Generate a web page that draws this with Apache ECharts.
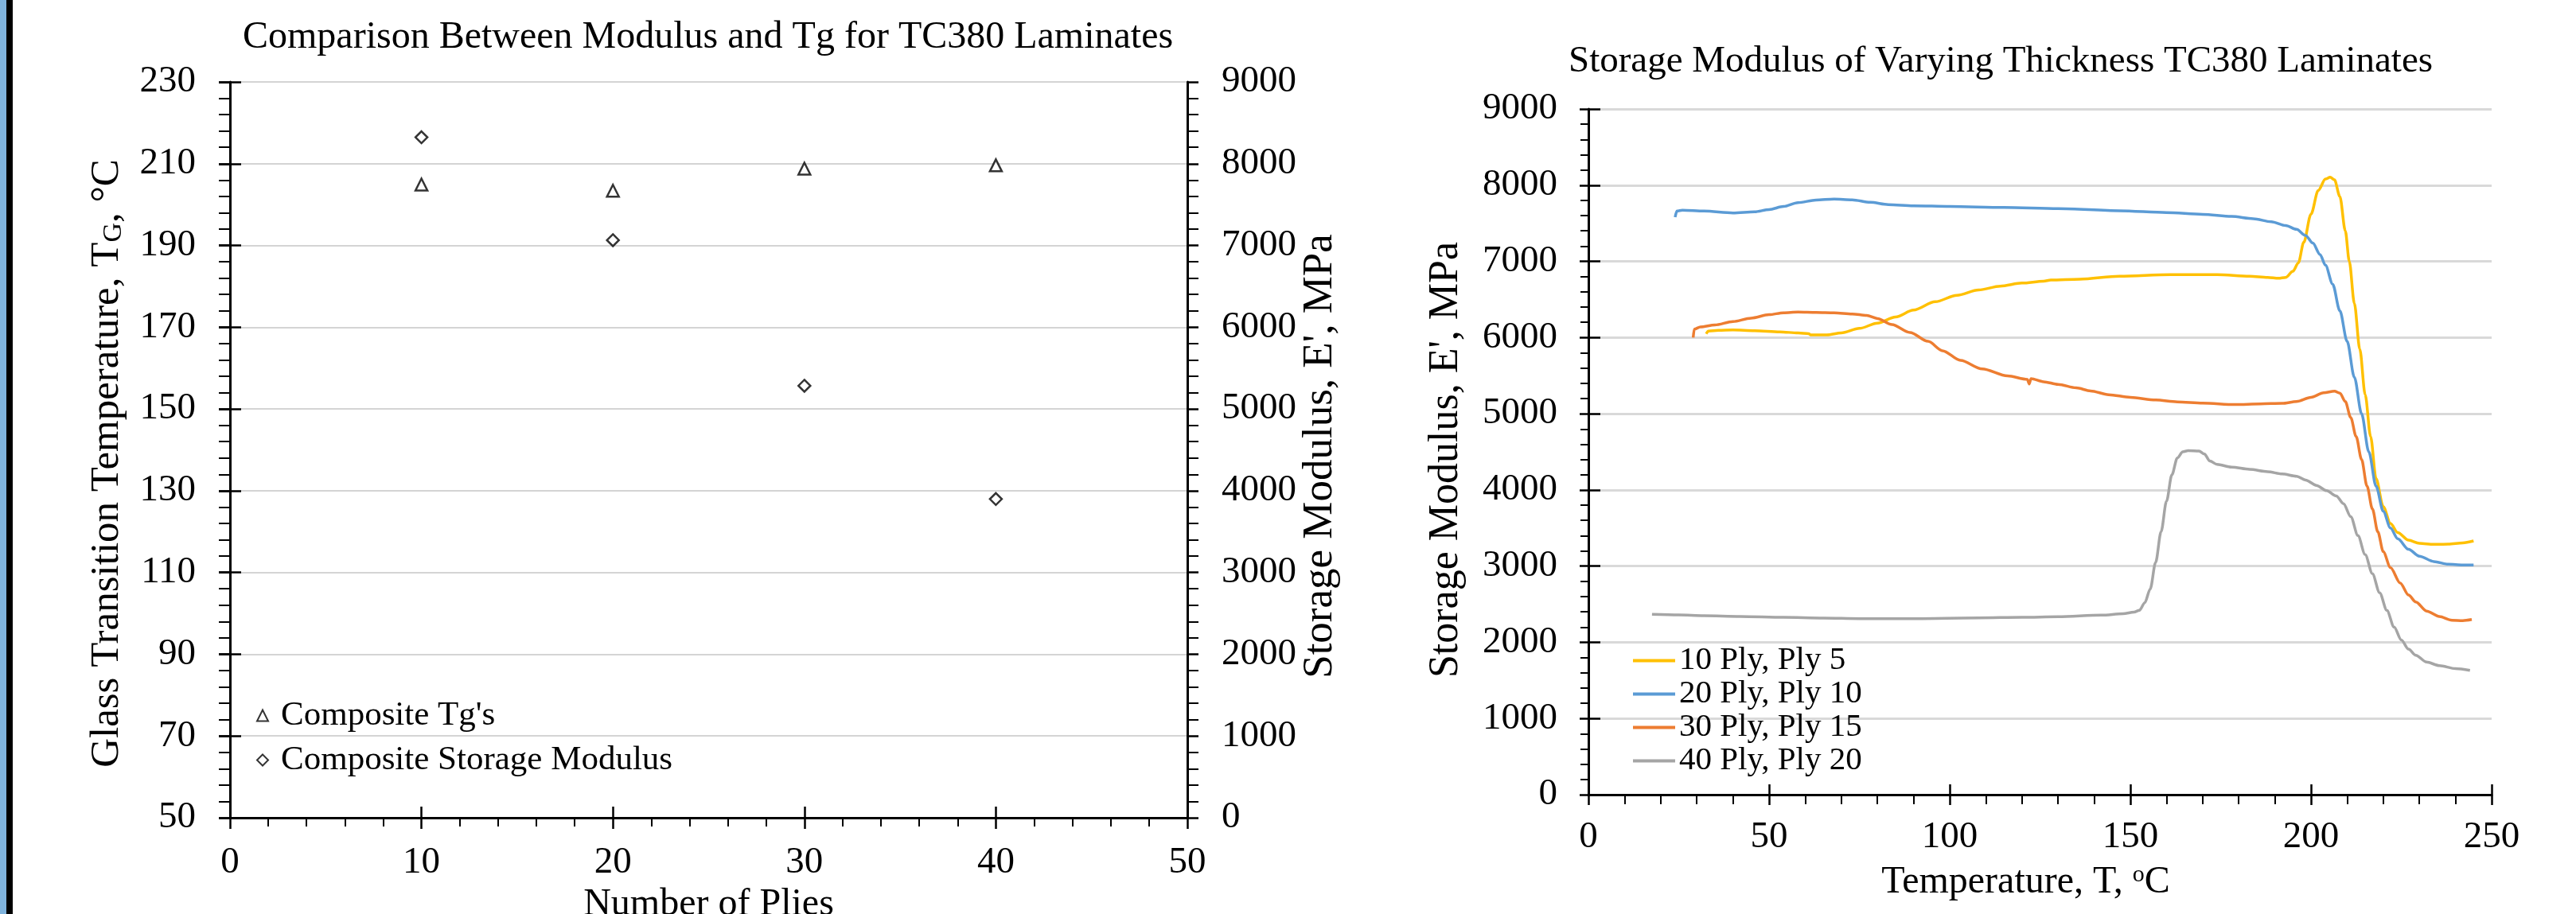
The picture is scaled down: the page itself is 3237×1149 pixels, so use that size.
<!DOCTYPE html>
<html>
<head>
<meta charset="utf-8">
<script src="https://cdn.jsdelivr.net/npm/echarts@6/dist/echarts.min.js"></script>
<style>html,body{margin:0;padding:0;background:#fff}#c{width:3237px;height:1149px}</style>
</head>
<body>
<div id="c"></div>
<script>
// ---------- Left chart data ----------
const plies = [10, 20, 30, 40];
const compositeTg = [204.9, 203.4, 208.8, 209.6];
const compositeModulus = [8323, 7064, 5284, 3899];
const pliesAxis = { min: 0, max: 50, step: 10 };
const tgAxis = { min: 50, max: 230, step: 20 };
const modulusAxis = { min: 0, max: 9000, step: 1000 };

// ---------- Right chart data: [temperature °C, storage modulus MPa] ----------
const tempAxis = { min: 0, max: 250, step: 50 };
const ply10 = [[32.6,6050],[33.2,6085],[36,6095],[40,6099],[46,6090],[53,6075],[58,6060],[61,6050],[61.5,6035],[66,6035],[70,6060],[75,6120],[80,6190],[85,6270],[90,6360],[96,6470],[102,6555],[108,6625],[114,6675],[120,6715],[126,6740],[128,6755],[136,6766],[147,6806],[161,6826],[174,6826],[183,6806],[188,6790],[191,6778],[193,6790],[195,6870],[196.5,6980],[198,7250],[200,7620],[202,7930],[204,8080],[205.3,8105],[206.5,8070],[208,7850],[209.5,7400],[210.6,7000],[212,6450],[213.5,5850],[215,5250],[216.5,4700],[218,4150],[220,3780],[222,3560],[224,3440],[227,3340],[230,3300],[234,3285],[238,3290],[242,3305],[245,3330]];
const ply20 = [[24,7580],[24.5,7660],[26,7672],[32,7660],[40,7636],[46,7650],[50,7680],[54,7720],[58,7770],[63,7805],[68,7818],[73,7808],[78,7775],[83,7745],[90,7730],[100,7720],[115,7708],[130,7692],[147,7664],[160,7640],[170,7617],[178,7590],[184,7560],[189,7520],[193,7470],[196,7420],[198.5,7340],[200.5,7240],[202.5,7090],[204,6950],[206,6700],[208,6350],[210,5950],[212,5480],[214,5000],[216,4500],[218,4050],[220,3720],[222,3500],[224,3360],[227,3220],[230,3130],[234,3060],[238,3025],[242,3015],[245,3015]];
const ply30 = [[29,6000],[29.3,6110],[31,6140],[35,6165],[40,6210],[45,6255],[50,6300],[54,6325],[58,6335],[63,6330],[68,6325],[73,6310],[77,6290],[80,6250],[84,6170],[89,6067],[94,5950],[98,5827],[103,5700],[109,5588],[116,5496],[121.5,5450],[122,5390],[122.5,5460],[126,5420],[130,5385],[135,5340],[139,5300],[144,5250],[150,5215],[157,5180],[163,5156],[170,5140],[179,5120],[186,5130],[192,5136],[196,5160],[200,5215],[203.5,5275],[206.5,5296],[208,5270],[209.5,5160],[211,4950],[212.5,4700],[214,4400],[215.5,4050],[217,3750],[218.5,3450],[220,3190],[222,2980],[224.7,2777],[227,2620],[229,2530],[232,2410],[235.5,2339],[239,2290],[242,2285],[244.5,2300]];
const ply40 = [[17.6,2367],[25,2360],[32,2350],[42,2340],[54,2328],[65,2318],[75,2311],[90,2311],[108,2321],[120,2328],[130,2335],[142,2356],[148,2375],[151,2395],[152.5,2420],[154,2520],[155.5,2700],[157,3050],[158.5,3450],[160,3850],[161.5,4200],[163,4420],[164.5,4500],[166,4515],[169,4510],[170.5,4470],[172,4380],[174,4335],[178,4300],[183,4270],[188,4240],[192,4210],[196,4180],[198.5,4130],[201.5,4060],[204.3,3990],[207,3920],[209,3820],[211,3650],[213,3400],[215,3150],[217,2900],[219,2650],[221,2420],[223,2200],[225,2030],[227,1910],[229,1830],[232,1740],[235.5,1695],[240,1655],[244,1632]];
const seriesNames = ['10 Ply, Ply 5', '20 Ply, Ply 10', '30 Ply, Ply 15', '40 Ply, Ply 20'];
const seriesColors = ['#FFC000', '#5B9BD5', '#ED7D31', '#A5A5A5'];
const seriesData = [ply10, ply20, ply30, ply40];

const FONT = '"Liberation Serif", "Times New Roman", serif';
const BLACK = '#000';
const plain = v => String(v);

function mainAxis(range, extra) {
  return Object.assign({
    type: 'value', min: range.min, max: range.max, interval: range.step,
    axisLine: { show: true, onZero: false, lineStyle: { color: BLACK, width: 3 } },
    axisTick: { show: true, inside: false, length: 14, lineStyle: { color: BLACK, width: 2.5 } },
    minorTick: { show: true, splitNumber: 5, length: 12, lineStyle: { color: BLACK, width: 2 } },
    axisLabel: { color: BLACK, fontFamily: FONT, fontSize: 47, margin: 32, formatter: plain },
    splitLine: { show: false },
    nameTextStyle: { color: BLACK, fontFamily: FONT, fontSize: 48 }
  }, extra);
}
function innerTickAxis(range, extra) {
  return Object.assign({
    type: 'value', min: range.min, max: range.max, interval: range.step,
    axisLine: { show: false },
    axisTick: { show: true, inside: true, length: 14, lineStyle: { color: BLACK, width: 2.5 } },
    axisLabel: { show: false },
    splitLine: { show: false }
  }, extra);
}

const option = {
  animation: false,
  backgroundColor: '#ffffff',
  textStyle: { fontFamily: FONT },
  title: [
    { text: 'Comparison Between Modulus and Tg for TC380 Laminates', left: 305, top: 23, padding: 0,
      textStyle: { fontFamily: FONT, fontSize: 48, fontWeight: 'normal', color: BLACK } },
    { text: 'Storage Modulus of Varying Thickness TC380 Laminates', left: 1971, top: 54, padding: 0,
      textStyle: { fontFamily: FONT, fontSize: 47, fontWeight: 'normal', color: BLACK } }
  ],
  grid: [
    { left: 289, top: 103, width: 1203, height: 925, containLabel: false, outerBoundsMode: 'none' },
    { left: 1996, top: 137, width: 1135, height: 862, containLabel: false, outerBoundsMode: 'none' }
  ],
  xAxis: [
    mainAxis(pliesAxis, { gridIndex: 0, position: 'bottom', name: 'Number of Plies', nameLocation: 'middle', nameGap: 78,
      axisLabel: { color: BLACK, fontFamily: FONT, fontSize: 47, margin: 33, formatter: plain },
      minorTick: { show: true, splitNumber: 5, length: 11, lineStyle: { color: BLACK, width: 2 } } }),
    innerTickAxis(pliesAxis, { gridIndex: 0, position: 'bottom' }),
    mainAxis(tempAxis, { gridIndex: 1, position: 'bottom', name: 'Temperature, T, {sup|o}C', nameLocation: 'middle', nameGap: 86,
      axisTick: { show: true, inside: false, length: 13, lineStyle: { color: BLACK, width: 2.5 } },
      axisLabel: { color: BLACK, fontFamily: FONT, fontSize: 47, margin: 30, formatter: plain },
      nameTextStyle: { color: BLACK, fontFamily: FONT, fontSize: 48, padding: [0, 36, 0, 0],
        rich: { sup: { fontFamily: FONT, fontSize: 30, verticalAlign: 'top', lineHeight: 30, color: BLACK } } } }),
    innerTickAxis(tempAxis, { gridIndex: 1, position: 'bottom', axisTick: { show: true, inside: true, length: 13, lineStyle: { color: BLACK, width: 2.5 } } })
  ],
  yAxis: [
    mainAxis(tgAxis, { gridIndex: 0, position: 'left', name: 'Glass Transition Temperature, T{sub|G}, °C', nameLocation: 'middle', nameGap: 129,
      axisLabel: { color: BLACK, fontFamily: FONT, fontSize: 47, margin: 43, formatter: plain },
      minorTick: { show: true, splitNumber: 5, length: 14, lineStyle: { color: BLACK, width: 2 } },
      splitLine: { show: true, lineStyle: { color: '#d4d4d4', width: 2 } },
      nameTextStyle: { color: BLACK, fontFamily: FONT, fontSize: 51, padding: [0, 34, 0, 0],
        rich: { sub: { fontFamily: FONT, fontSize: 34, verticalAlign: 'bottom', lineHeight: 34, color: BLACK } } } }),
    innerTickAxis(tgAxis, { gridIndex: 0, position: 'left' }),
    mainAxis(modulusAxis, { gridIndex: 0, position: 'right', name: "Storage Modulus, E', MPa", nameLocation: 'middle', nameGap: 139,
      axisLabel: { color: BLACK, fontFamily: FONT, fontSize: 47, margin: 43, formatter: plain },
      nameTextStyle: { color: BLACK, fontFamily: FONT, fontSize: 53, padding: [0, 16, 0, 0] },
      minorTick: { show: true, splitNumber: 5, length: 14, lineStyle: { color: BLACK, width: 2 } } }),
    innerTickAxis(modulusAxis, { gridIndex: 0, position: 'right' }),
    mainAxis(modulusAxis, { gridIndex: 1, position: 'left', name: "Storage Modulus, E', MPa", nameLocation: 'middle', nameGap: 153,
      axisTick: { show: true, inside: false, length: 11, lineStyle: { color: BLACK, width: 2.5 } },
      minorTick: { show: true, splitNumber: 5, length: 10, lineStyle: { color: BLACK, width: 2 } },
      axisLabel: { color: BLACK, fontFamily: FONT, fontSize: 47, margin: 39, formatter: plain },
      nameTextStyle: { color: BLACK, fontFamily: FONT, fontSize: 52, padding: [0, 20, 0, 0] },
      splitLine: { show: true, lineStyle: { color: '#d9d9d9', width: 3 } } }),
    innerTickAxis(modulusAxis, { gridIndex: 1, position: 'left', axisTick: { show: true, inside: true, length: 15, lineStyle: { color: BLACK, width: 2.5 } } })
  ],
  legend: [
    { data: ["Composite Tg's", 'Composite Storage Modulus'], orient: 'vertical', left: 322, top: 878, padding: 0,
      itemGap: 13, itemWidth: 14, itemHeight: 14,
      textStyle: { fontFamily: FONT, fontSize: 43, color: BLACK, padding: [0, 0, 0, 11] } },
    { data: seriesNames, orient: 'vertical', left: 2052, top: 810, padding: 0, icon: 'rect',
      itemGap: 1, itemWidth: 53, itemHeight: 4, textStyle: { fontFamily: FONT, fontSize: 41, color: BLACK } }
  ],
  graphic: [
    { type: 'rect', left: 0, top: 0, shape: { width: 8, height: 1149 }, style: { fill: '#7FB3DD' }, silent: true },
    { type: 'rect', left: 8, top: 0, shape: { width: 8, height: 1149 }, style: { fill: '#000000' }, silent: true }
  ],
  series: [
    { type: 'scatter', name: "Composite Tg's", xAxisIndex: 0, yAxisIndex: 0,
      data: plies.map((p, i) => [p, compositeTg[i]]), symbol: 'triangle', symbolSize: 15,
      itemStyle: { color: '#ffffff', borderColor: BLACK, borderWidth: 2.5 } },
    { type: 'scatter', name: 'Composite Storage Modulus', xAxisIndex: 0, yAxisIndex: 2,
      data: plies.map((p, i) => [p, compositeModulus[i]]), symbol: 'diamond', symbolSize: 15,
      itemStyle: { color: '#ffffff', borderColor: BLACK, borderWidth: 2.5 } }
  ].concat(seriesData.map((d, i) => ({
    type: 'line', name: seriesNames[i], xAxisIndex: 2, yAxisIndex: 4, data: d,
    symbol: 'none', showSymbol: false, smooth: 0.3, smoothMonotone: 'x',
    lineStyle: { color: seriesColors[i], width: 3.5 }, itemStyle: { color: seriesColors[i] }
  })))
};

const chart = echarts.init(document.getElementById('c'), null, { renderer: 'canvas' });
chart.setOption(option);
</script>
</body>
</html>
